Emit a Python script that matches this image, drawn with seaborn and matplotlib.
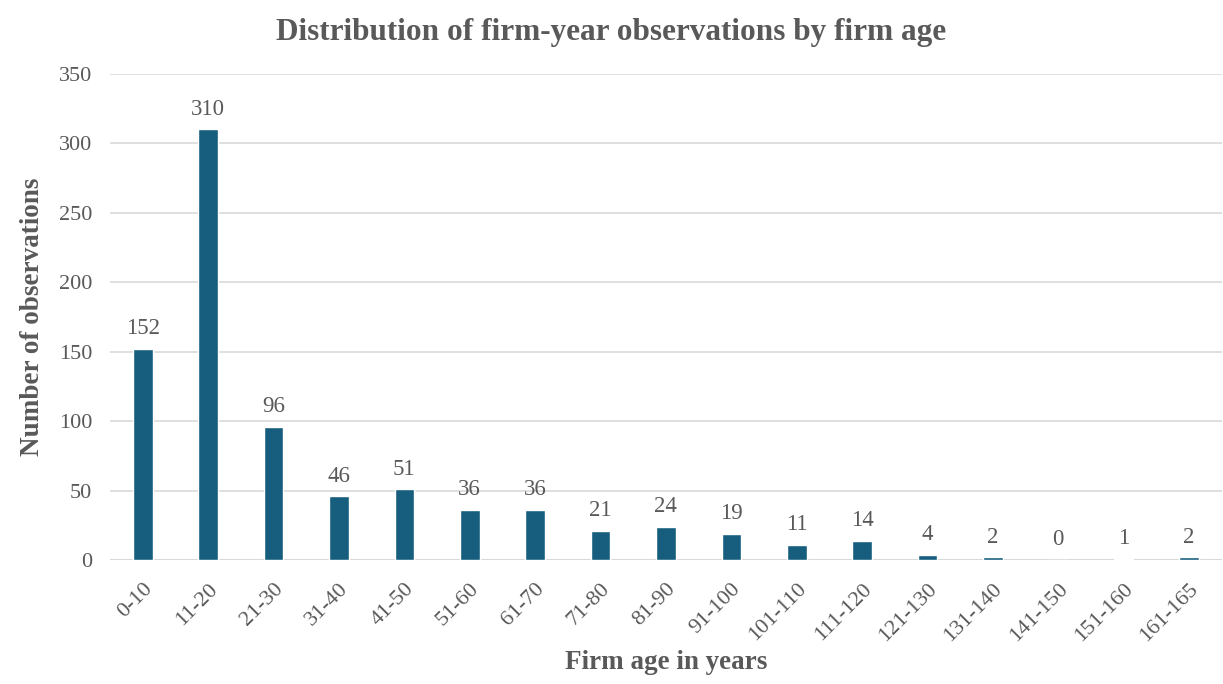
import matplotlib
matplotlib.use("Agg")
import matplotlib.pyplot as plt
import seaborn as sns
import pandas as pd

age_groups = ["0-10", "11-20", "21-30", "31-40", "41-50", "51-60", "61-70",
              "71-80", "81-90", "91-100", "101-110", "111-120", "121-130",
              "131-140", "141-150", "151-160", "161-165"]
observations = [152, 310, 96, 46, 51, 36, 36, 21, 24, 19, 11, 14, 4, 2, 0, 1, 2]
y_ticks = [0, 50, 100, 150, 200, 250, 300, 350]

df = pd.DataFrame({"age": age_groups, "n": observations})

sns.set_theme(style="white")
plt.rcParams["font.family"] = ["Liberation Serif", "DejaVu Serif"]

text_color = "#595959"
bar_color = "#175E7E"
grid_color = "#D9D9D9"

fig = plt.figure(figsize=(12.23, 6.84), dpi=100)
ax = fig.add_axes([0.09, 0.181, 0.909, 0.711])

sns.barplot(data=df, x="age", y="n", color=bar_color, width=0.3,
            saturation=1, ax=ax, zorder=3)

ax.set_ylim(0, 350)
ax.set_yticks(y_ticks)
ax.set_xlim(-0.5, len(age_groups) - 0.5)
ax.yaxis.grid(True, color=grid_color, linewidth=1.2, zorder=0)
ax.set_axisbelow(True)
for s in ax.spines.values():
    s.set_visible(False)
ax.axhline(0, color=grid_color, linewidth=1.5, zorder=1)

ax.tick_params(axis="y", labelsize=16, labelcolor=text_color, length=0, pad=13)
ax.tick_params(axis="x", labelsize=16, labelcolor=text_color, length=0, pad=14)
plt.setp(ax.get_xticklabels(), rotation=45, ha="right", rotation_mode="anchor")

for i, v in enumerate(observations):
    ax.annotate(str(v), (i, v), xytext=(0, 7), textcoords="offset points",
                ha="center", va="bottom", fontsize=16.5, color=text_color)

ax.set_xlabel("Firm age in years", fontsize=19.5, fontweight="bold",
              color=text_color, labelpad=3)
ax.set_ylabel("Number of observations", fontsize=19.5, fontweight="bold",
              color=text_color, labelpad=10)
fig.suptitle("Distribution of firm-year observations by firm age",
             fontsize=22.5, fontweight="bold", color=text_color, y=0.973)

fig.savefig("out.png", dpi=100)
